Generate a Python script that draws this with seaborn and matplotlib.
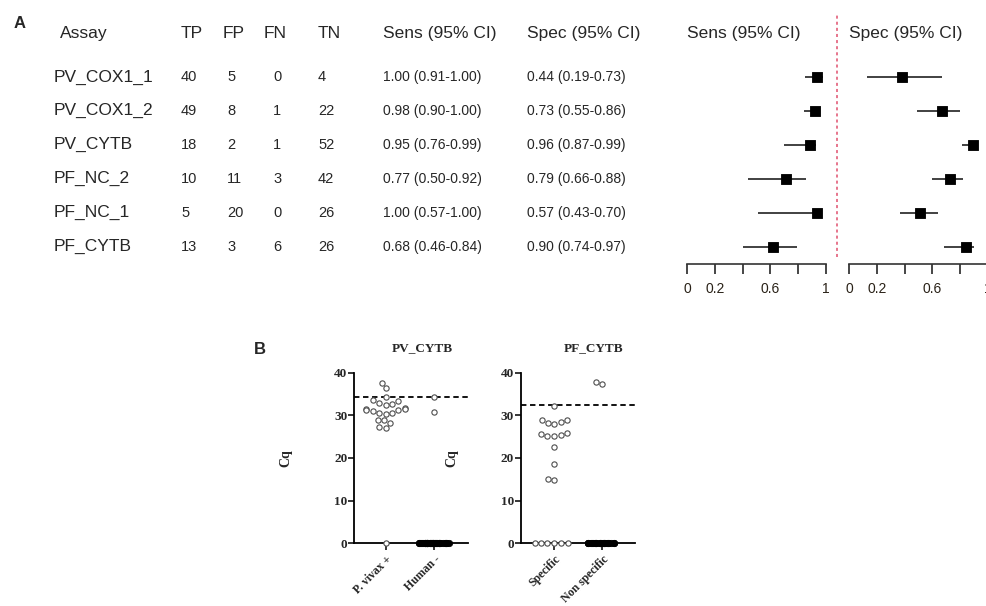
import numpy as np
import pandas as pd
import matplotlib.pyplot as plt
import seaborn as sns

# ---- panel A: table values
assays = ["PV_COX1_1", "PV_COX1_2", "PV_CYTB", "PF_NC_2", "PF_NC_1", "PF_CYTB"]
tp = [40, 49, 18, 10, 5, 13]
fp = [5, 8, 2, 11, 20, 3]
fn = [0, 1, 1, 3, 0, 6]
tn = [4, 22, 52, 42, 26, 26]
sens = [1.00, 0.98, 0.95, 0.77, 1.00, 0.68]
sens_lo = [0.91, 0.90, 0.76, 0.50, 0.57, 0.46]
sens_hi = [1.00, 1.00, 0.99, 0.92, 1.00, 0.84]
spec = [0.44, 0.73, 0.96, 0.79, 0.57, 0.90]
spec_lo = [0.19, 0.55, 0.87, 0.66, 0.43, 0.74]
spec_hi = [0.73, 0.86, 0.99, 0.88, 0.70, 0.97]

# forest plot marks as they sit on the drawn axes
sens_pt = [0.94, 0.92, 0.89, 0.71, 0.94, 0.62]
sens_pt_lo = [0.85, 0.84, 0.70, 0.44, 0.51, 0.40]
sens_pt_hi = [0.98, 0.96, 0.93, 0.86, 0.97, 0.79]
spec_pt = [0.38, 0.67, 0.89, 0.73, 0.51, 0.84]
spec_pt_lo = [0.13, 0.49, 0.81, 0.60, 0.37, 0.68]
spec_pt_hi = [0.67, 0.80, 0.93, 0.82, 0.64, 0.90]
forest_ticks = [0, 0.2, 0.4, 0.6, 0.8, 1]
forest_ticklabels = ["0", "0.2", "", "0.6", "", "1"]

# ---- panel B: Cq values
pv_groups = ["P. vivax +", "Human -"]
pv_pos = [37.6, 36.3, 34.4, 33.6, 33.3, 32.9, 32.6, 32.4, 31.7, 31.5, 31.4, 31.3,
          31.2, 31.1, 30.6, 30.5, 30.4, 29.0, 28.8, 28.1, 27.2, 27.0, 0.0]
pv_neg = [34.3, 30.7]
pv_neg_zeros = 52
pv_cutoff = 34.3

pf_groups = ["Specific", "Non specific"]
pf_spec = [32.2, 29.0, 28.8, 28.5, 28.3, 28.0, 25.9, 25.7, 25.4, 25.2, 25.2,
           22.6, 18.6, 15.0, 14.8, 0.0, 0.0, 0.0, 0.0, 0.0, 0.0]
pf_non = [37.9, 37.4]
pf_non_zeros = 27
pf_cutoff = 32.5

sns.set_style("white")
plt.rcParams["font.family"] = ["Liberation Sans", "DejaVu Sans"]
SERIF = ["Liberation Serif", "DejaVu Serif"]

W, H = 987, 606
fig = plt.figure(figsize=(W / 100, H / 100), dpi=100)


def px_rect(l, t, r, b):
    return [l / W, 1 - b / H, (r - l) / W, (b - t) / H]


YLIM = (5.525, -1.829)
HEAD_Y = -1.29
rows = np.arange(len(assays))

# ---- table
ax_tab = fig.add_axes(px_rect(0, 15, 680, 264.3))
ax_tab.set_xlim(0, 680)
ax_tab.set_ylim(*YLIM)
ax_tab.axis("off")
heads = [("Assay", 60), ("TP", 181), ("FP", 223), ("FN", 264), ("TN", 318),
         ("Sens (95% CI)", 383), ("Spec (95% CI)", 527)]
for txt, x in heads:
    ax_tab.text(x, HEAD_Y, txt, fontsize=12.5, va="center", ha="left")
for i in rows:
    ax_tab.text(54, i, assays[i], fontsize=12.5, va="center")
    ax_tab.text(181, i, str(tp[i]), fontsize=10.5, va="center")
    ax_tab.text(227, i, str(fp[i]), fontsize=10.5, va="center")
    ax_tab.text(273, i, str(fn[i]), fontsize=10.5, va="center")
    ax_tab.text(318, i, str(tn[i]), fontsize=10.5, va="center")
    ax_tab.text(383, i, f"{sens[i]:.2f} ({sens_lo[i]:.2f}-{sens_hi[i]:.2f})",
                fontsize=10, va="center")
    ax_tab.text(527, i, f"{spec[i]:.2f} ({spec_lo[i]:.2f}-{spec_hi[i]:.2f})",
                fontsize=10, va="center")

# ---- forest plots
ax_sens = fig.add_axes(px_rect(687.3, 15, 825.7, 264.3))
ax_spec = fig.add_axes(px_rect(849, 15, 988, 264.3))
for ax, pt, lo, hi, title in [(ax_sens, sens_pt, sens_pt_lo, sens_pt_hi, "Sens (95% CI)"),
                              (ax_spec, spec_pt, spec_pt_lo, spec_pt_hi, "Spec (95% CI)")]:
    ax.hlines(rows, lo, hi, color="#333333", lw=1.3, clip_on=False)
    sns.scatterplot(x=pt, y=rows, marker="s", s=60, color="black",
                    edgecolor="black", ax=ax, clip_on=False, zorder=3)
    ax.set_xlim(0, 1)
    ax.set_ylim(*YLIM)
    ax.set_yticks([])
    ax.set_xticks(forest_ticks)
    ax.set_xticklabels(forest_ticklabels)
    ax.tick_params(axis="x", direction="out", length=7, width=1.2, pad=6,
                   labelsize=10, labelcolor="#2a2218", bottom=True)
    for s in ["top", "right", "left"]:
        ax.spines[s].set_visible(False)
    ax.spines["bottom"].set_linewidth(1.2)
    ax.spines["bottom"].set_color("#333333")
    ax.text(0, HEAD_Y, title, fontsize=12.5, va="center", ha="left")
    ax.set_facecolor("none")
ax_sens.axvline(1.08, ymin=0.03, ymax=1.0, color="#e0506e", lw=1.1,
                ls=(0, (2, 2)), clip_on=False)


# ---- panel B strip plots
def strip(ax, groups, pos, neg, neg_zeros, cutoff, title, xlim, title_x):
    df = pd.DataFrame({
        "group": [groups[0]] * len(pos) + [groups[1]] * len(neg),
        "cq": pos + neg,
    })
    sns.swarmplot(data=df, x="group", y="cq", order=groups, color="white",
                  size=3.8, edgecolor="#4d4d4d", linewidth=0.8, ax=ax,
                  warn_thresh=1)
    # the many negative samples at Cq 0 pile up into a solid bar
    np.random.seed(3)
    sns.stripplot(x=[groups[1]] * neg_zeros, y=[0.0] * neg_zeros, order=groups,
                  jitter=0.32, color="black", size=4.6, edgecolor="black",
                  linewidth=0.5, ax=ax)
    for c in ax.collections:
        c.set_clip_on(False)
        c.set_zorder(4)
    ax.axhline(cutoff, color="black", lw=1.3, ls=(0, (3, 2)), zorder=2)
    ax.set_ylim(0, 40)
    ax.set_xlim(*xlim)
    ax.set_yticks([0, 10, 20, 30, 40])
    ax.set_xticks([0, 1])
    ax.set_xticklabels(groups, rotation=45, ha="right", rotation_mode="anchor",
                       fontsize=8.5, fontweight="bold", family=SERIF)
    for lab in ax.get_yticklabels():
        lab.set_family(SERIF)
        lab.set_fontweight("bold")
    ax.tick_params(axis="y", direction="out", length=4, width=1.3, labelsize=9.5,
                   pad=1, left=True)
    ax.tick_params(axis="x", direction="out", length=5, width=1.3, pad=2, bottom=True)
    sns.despine(ax=ax)
    for s in ["left", "bottom"]:
        ax.spines[s].set_linewidth(1.3)
        ax.spines[s].set_color("black")
    ax.set_xlabel("")
    ax.set_ylabel("Cq", fontsize=10, fontweight="bold", family=SERIF)
    ax.yaxis.set_label_coords(-0.55, 0.5)
    ax.text(title_x, 1.143, title, transform=ax.transAxes, ha="center", va="center",
            fontsize=9.5, fontweight="bold", family=SERIF)
    ax.set_facecolor("none")


ax_pv = fig.add_axes(px_rect(354.3, 372.7, 467.7, 543.3))
ax_pf = fig.add_axes(px_rect(521, 372.7, 635, 543.3))
strip(ax_pv, pv_groups, pv_pos, pv_neg, pv_neg_zeros, pv_cutoff, "PV_CYTB",
      (-0.65, 1.70), 0.6)
strip(ax_pf, pf_groups, pf_spec, pf_non, pf_non_zeros, pf_cutoff, "PF_CYTB",
      (-0.69, 1.68), 0.64)

fig.text(14 / W, 1 - 24 / H, "A", fontsize=12, fontweight="bold", va="center")
fig.text(254 / W, 1 - 349 / H, "B", fontsize=12, fontweight="bold", va="center")

fig.savefig("out.png", dpi=100, facecolor="white")
